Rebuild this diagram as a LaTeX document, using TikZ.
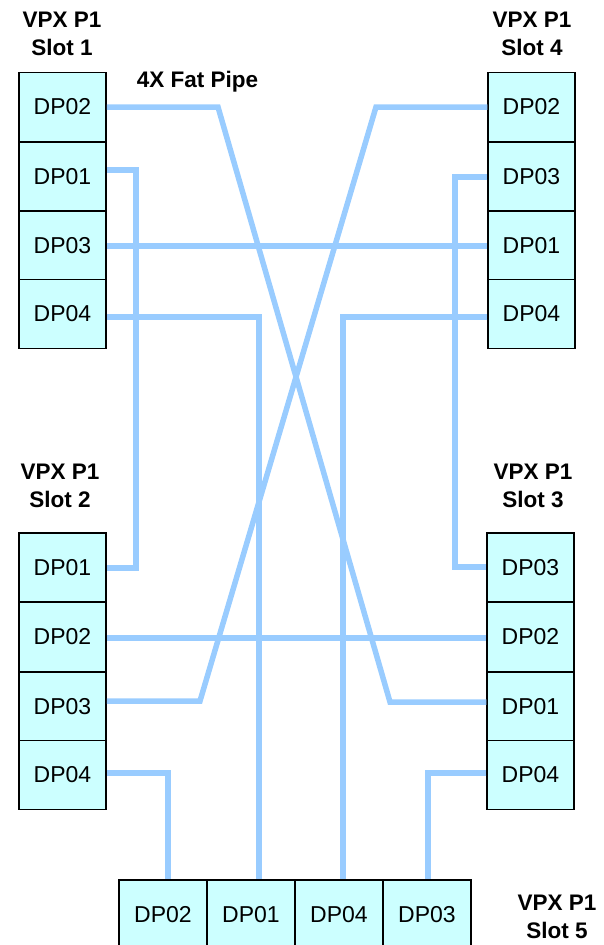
\documentclass[tikz,border=0pt]{standalone}
\usepackage{fontspec}
\setmainfont{Liberation Sans}
\definecolor{pipe}{HTML}{99CCFF}
\definecolor{boxfill}{HTML}{CCFFFF}
\begin{document}
\begin{tikzpicture}[x=1pt,y=-1pt,
  port/.style={draw=black,line width=1.5pt,fill=boxfill,minimum width=87pt,minimum height=69pt,inner sep=0pt,font=\fontsize{23}{26}\selectfont},
  port5/.style={port,minimum width=88pt,minimum height=70pt},
  slotlabel/.style={align=center,font=\fontsize{22.5}{28}\selectfont\bfseries},
  wire/.style={draw=pipe,line width=5.5pt,line join=miter}]
\useasboundingbox (0,0) rectangle (604,945);
% Slot 1
\node[port] (s1a) at (62.5,107) {DP02};
\node[port] (s1b) at (62.5,176.5) {DP01};
\node[port] (s1c) at (62.5,245.5) {DP03};
\node[port] (s1d) at (62.5,314) {DP04};
% Slot 4
\node[port] (s4a) at (531.5,107) {DP02};
\node[port] (s4b) at (531.5,176.5) {DP03};
\node[port] (s4c) at (531.5,245.5) {DP01};
\node[port] (s4d) at (531.5,314) {DP04};
% Slot 2
\node[port] (s2a) at (62.5,567.5) {DP01};
\node[port] (s2b) at (62.5,637) {DP02};
\node[port] (s2c) at (62.5,706.5) {DP03};
\node[port] (s2d) at (62.5,775) {DP04};
% Slot 3
\node[port] (s3a) at (530.5,567.5) {DP03};
\node[port] (s3b) at (530.5,637) {DP02};
\node[port] (s3c) at (530.5,706.5) {DP01};
\node[port] (s3d) at (530.5,775) {DP04};
% Slot 5
\node[port5] (s5a) at (163,915) {DP02};
\node[port5] (s5b) at (251,915) {DP01};
\node[port5] (s5c) at (339,915) {DP04};
\node[port5] (s5d) at (427,915) {DP03};
% labels
\node[slotlabel] (l1) at (62,34) {VPX P1\\Slot 1};
\node[slotlabel] (l4) at (532,34) {VPX P1\\Slot 4};
\node[slotlabel] (l2) at (60,486) {VPX P1\\Slot 2};
\node[slotlabel] (l3) at (533,486) {VPX P1\\Slot 3};
\node[slotlabel] (l5) at (557,917) {VPX P1\\Slot 5};
\node[slotlabel] (fp) at (197.5,82) {4X Fat Pipe};
% connection points
\coordinate (a1) at (s1a.east |- 0,107);
\coordinate (b1) at (s3c.west |- 0,702);
\coordinate (a2) at (s1b.east |- 0,170);
\coordinate (b2) at (s2a.east |- 0,568);
\coordinate (a3) at (s1c.east |- 0,246);
\coordinate (b3) at (s4c.west |- 0,246);
\coordinate (a4) at (s1d.east |- 0,317);
\coordinate (a5) at (s4a.west |- 0,107);
\coordinate (b5) at (s2c.east |- 0,701);
\coordinate (a6) at (s4b.west |- 0,177);
\coordinate (b6) at (s3a.west |- 0,567);
\coordinate (a7) at (s4d.west |- 0,317);
\coordinate (a8) at (s2b.east |- 0,638);
\coordinate (b8) at (s3b.west |- 0,638);
\coordinate (a9) at (s2d.east |- 0,773);
\coordinate (a10) at (s3d.west |- 0,773);
% wires
\draw[wire] (a1) -- (218,107) -- (390,702) -- (b1);
\draw[wire] (a2) -- (136,170) -- (136,568) -- (b2);
\draw[wire] (a3) -- (b3);
\draw[wire] (a4) -- (259,317) -- (s5b.north -| 259,0);
\draw[wire] (a5) -- (376,107) -- (200,701) -- (b5);
\draw[wire] (a6) -- (455,177) -- (455,567) -- (b6);
\draw[wire] (a7) -- (343,317) -- (s5c.north -| 343,0);
\draw[wire] (a8) -- (b8);
\draw[wire] (a9) -- (168,773) -- (s5a.north -| 168,0);
\draw[wire] (a10) -- (428,773) -- (s5d.north -| 428,0);
\end{tikzpicture}
\end{document}
